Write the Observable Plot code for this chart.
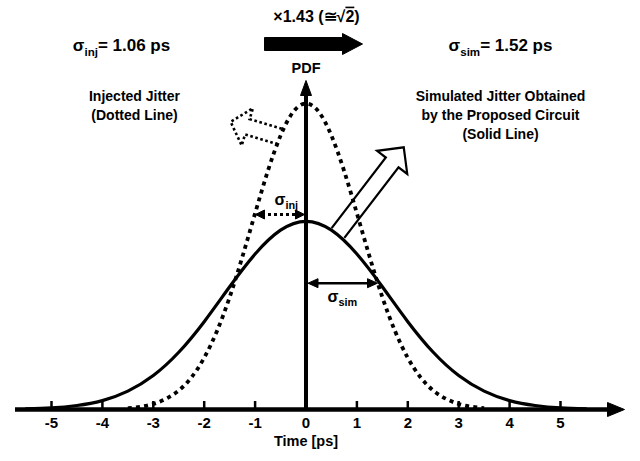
<!DOCTYPE html>
<html><head><meta charset="utf-8">
<script src="https://cdn.jsdelivr.net/npm/d3@7"></script>
<script src="https://cdn.jsdelivr.net/npm/@observablehq/plot@0.6"></script>
<style>html,body{margin:0;padding:0;background:#fff;} svg{display:block;}</style>
</head><body><div id="chart"></div>
<script>
// ---------- data ----------
const timeInjected = [-3.5,-3.25,-3,-2.75,-2.5,-2.25,-2,-1.75,-1.5,-1.25,-1,-0.75,-0.5,-0.25,0,0.25,0.5,0.75,1,1.25,1.5,1.75,2,2.25,2.5,2.75,3,3.25,3.5];
const pdfInjected  = [0.004,0.009,0.018,0.035,0.062,0.105,0.169,0.256,0.367,0.499,0.641,0.779,0.895,0.973,1.000,0.973,0.895,0.779,0.641,0.499,0.367,0.256,0.169,0.105,0.062,0.035,0.018,0.009,0.004];
const timeSimulated = [-5.5,-5,-4.5,-4,-3.5,-3,-2.5,-2,-1.5,-1,-0.5,0,0.5,1,1.5,2,2.5,3,3.5,4,4.5,5,5.5];
const pdfSimulated  = [0.002,0.005,0.013,0.029,0.060,0.111,0.187,0.287,0.401,0.508,0.586,0.615,0.586,0.508,0.401,0.287,0.187,0.111,0.060,0.029,0.013,0.005,0.002];
const tickValues = [-5,-4,-3,-2,-1,0,1,2,3,4,5];
const tickLabels = ["-5","-4","-3","-2","-1","0","1","2","3","4","5"];
const xTitle = "Time [ps]";
const yTitle = "PDF";
const sigmaInjText = "σ_{inj}= 1.06 ps";
const sigmaSimText = "σ_{sim}= 1.52 ps";
const ratioText = "×1.43 (≅√~{2})";
const injectedNote = "Injected Jitter\n(Dotted Line)";
const simulatedNote = "Simulated Jitter Obtained\nby the Proposed Circuit\n(Solid Line)";
const sigmaInjMark = "σ_{inj}";
const sigmaSimMark = "σ_{sim}";

// ---------- layout ----------
const W = 640, H = 461;
const X0 = 305.5, KX = 50.9;   // pixel of t=0, pixels per ps
const Y0 = 409, KY = 306;      // baseline pixel, pixels per PDF unit
const px2x = p => (p - X0) / KX;
const py2y = p => (Y0 - p) / KY;

const injected = timeInjected.map((t, i) => ({t, v: pdfInjected[i]}));
const simulated = timeSimulated.map((t, i) => ({t, v: pdfSimulated[i]}));
const ticks = tickValues.map((t, i) => ({t, label: tickLabels[i]}));

function arrowPts(bx, by, angDeg, shaftLen, hs, hh, hl) {
  const a = angDeg * Math.PI / 180, dx = Math.cos(a), dy = Math.sin(a), nx = -dy, ny = dx;
  const hx = bx + dx * shaftLen, hy = by + dy * shaftLen;
  return [[bx + nx*hs, by + ny*hs],[hx + nx*hs, hy + ny*hs],[hx + nx*hh, hy + ny*hh],
          [hx + dx*hl, hy + dy*hl],[hx - nx*hh, hy - ny*hh],[hx - nx*hs, hy - ny*hs],[bx - nx*hs, by - ny*hs]];
}
function triPts(tx, ty, angDeg, len, half) {
  const a = angDeg * Math.PI / 180, dx = Math.cos(a), dy = Math.sin(a), nx = -dy, ny = dx;
  const bx = tx - dx*len, by = ty - dy*len;
  return [[tx, ty],[bx + nx*half, by + ny*half],[bx - nx*half, by - ny*half],[tx, ty]];
}
function shape(pts, opts) {
  return Plot.line(pts.map(([a, b]) => ({x: px2x(a), y: py2y(b)})),
    {x: "x", y: "y", curve: "linear", strokeMiterlimit: 10, strokeLinejoin: "miter", strokeLinecap: "butt", ...opts});
}
function label(text, px, py, opts) {
  return Plot.text([text], {x: () => px2x(px), y: () => py2y(py), text: d => d, ...opts});
}

const hollow = arrowPts(337.5, 232.5, -52.5, 89, 8, 19, 19);
const dottedArrow = arrowPts(279, 136, -163.3, 33.6, 8, 19.5, 17.4);
const bigArrow = arrowPts(264, 43.5, 0, 78, 6.5, 10.5, 20);

const plot = Plot.plot({
  width: W, height: H,
  marginLeft: 0, marginRight: 0, marginTop: 0, marginBottom: H - Y0,
  x: {domain: [px2x(0), px2x(W)], axis: null},
  y: {domain: [0, Y0 / KY], axis: null},
  style: {fontFamily: "'Liberation Sans', Arial, sans-serif", fontWeight: "bold", background: "white", color: "black"},
  marks: [
    // curves
    Plot.line(simulated, {x: "t", y: "v", curve: "natural", stroke: "black", strokeWidth: 3.2}),
    Plot.line(injected, {x: "t", y: "v", curve: "natural", stroke: "black", strokeWidth: 3.8,
      strokeDasharray: "4,4.2", strokeLinecap: "butt"}),
    // axes
    Plot.ruleY([0], {x1: px2x(15), x2: px2x(610), stroke: "black", strokeWidth: 4.5}),
    shape(triPts(624, 409, 0, 17, 7), {fill: "black", stroke: "black", strokeWidth: 1}),
    Plot.ruleX([0], {y1: 0, y2: py2y(93), stroke: "black", strokeWidth: 4}),
    shape(triPts(305.5, 80, -90, 15, 5.5), {fill: "black", stroke: "black", strokeWidth: 1}),
    Plot.ruleX(ticks, {x: "t", y1: 0, y2: py2y(401), stroke: "black", strokeWidth: 2.5}),
    Plot.text(ticks, {x: "t", y: 0, dy: 14, text: "label", fontSize: 15}),
    label(xTitle, 305.5, 441, {fontSize: 14.5}),
    label(yTitle, 305.5, 68, {fontSize: 14.5}),
    // sigma arrows
    Plot.ruleY([0], {x1: px2x(262), x2: px2x(298), y: () => py2y(214), stroke: "black", strokeWidth: 3, strokeDasharray: "3,3"}),
    shape(triPts(255, 214, 180, 9, 4.5), {fill: "black", stroke: "black", strokeWidth: 1}),
    shape(triPts(304, 214, 0, 9, 4.5), {fill: "black", stroke: "black", strokeWidth: 1}),
    Plot.ruleY([0], {x1: px2x(314), x2: px2x(370), y: () => py2y(282.7), stroke: "black", strokeWidth: 2.5}),
    shape(triPts(307.5, 282.7, 180, 10, 4.5), {fill: "black", stroke: "black", strokeWidth: 1}),
    shape(triPts(377, 282.7, 0, 10, 4.5), {fill: "black", stroke: "black", strokeWidth: 1}),
    label(sigmaInjMark, 274, 199, {fontSize: 16, textAnchor: "start"}),
    label(sigmaSimMark, 327, 296, {fontSize: 16, textAnchor: "start"}),
    // callout arrows
    shape(hollow, {fill: "none", stroke: "black", strokeWidth: 2.2}),
    shape(dottedArrow, {fill: "none", stroke: "black", strokeWidth: 2.6, strokeDasharray: "2.6,2.6"}),
    shape([...bigArrow, bigArrow[0]], {fill: "black", stroke: "black", strokeWidth: 1}),
    // texts
    label(ratioText, 316, 16, {fontSize: 16}),
    label(sigmaInjText, 121, 45, {fontSize: 17}),
    label(sigmaSimText, 500, 45, {fontSize: 17}),
    label(injectedNote, 134, 103.5, {fontSize: 14, lineHeight: 19 / 14}),
    label(simulatedNote, 500, 113.5, {fontSize: 14, lineHeight: 19 / 14})
  ]
});
document.getElementById("chart").appendChild(plot);

// rich text: _{..} subscript, ~{..} overline
function richify(el) {
  const s = el.textContent;
  if (!/[_~]\{/.test(s)) return;
  const fs = parseFloat(getComputedStyle(el).fontSize) || 16;
  const parts = [];
  let i = 0;
  while (i < s.length) {
    if ((s[i] === "_" || s[i] === "~") && s[i + 1] === "{") {
      const j = s.indexOf("}", i);
      parts.push({type: s[i], t: s.slice(i + 2, j)});
      i = j + 1;
    } else {
      let j = i;
      while (j < s.length && !((s[j] === "_" || s[j] === "~") && s[j + 1] === "{")) j++;
      parts.push({type: "", t: s.slice(i, j)});
      i = j;
    }
  }
  el.textContent = "";
  const sh = fs * 0.3;
  let shifted = false;
  for (const p of parts) {
    const ts = document.createElementNS("http://www.w3.org/2000/svg", "tspan");
    ts.textContent = p.t;
    if (p.type === "_") {
      ts.setAttribute("font-size", (fs * 0.68) + "px");
      ts.setAttribute("dy", sh);
      shifted = true;
    } else {
      if (shifted) { ts.setAttribute("dy", -sh); shifted = false; }
      if (p.type === "~") ts.setAttribute("text-decoration", "overline");
    }
    el.appendChild(ts);
  }
}
plot.querySelectorAll("text").forEach(t => { if (!t.querySelector("tspan")) richify(t); });
</script>
</body></html>
